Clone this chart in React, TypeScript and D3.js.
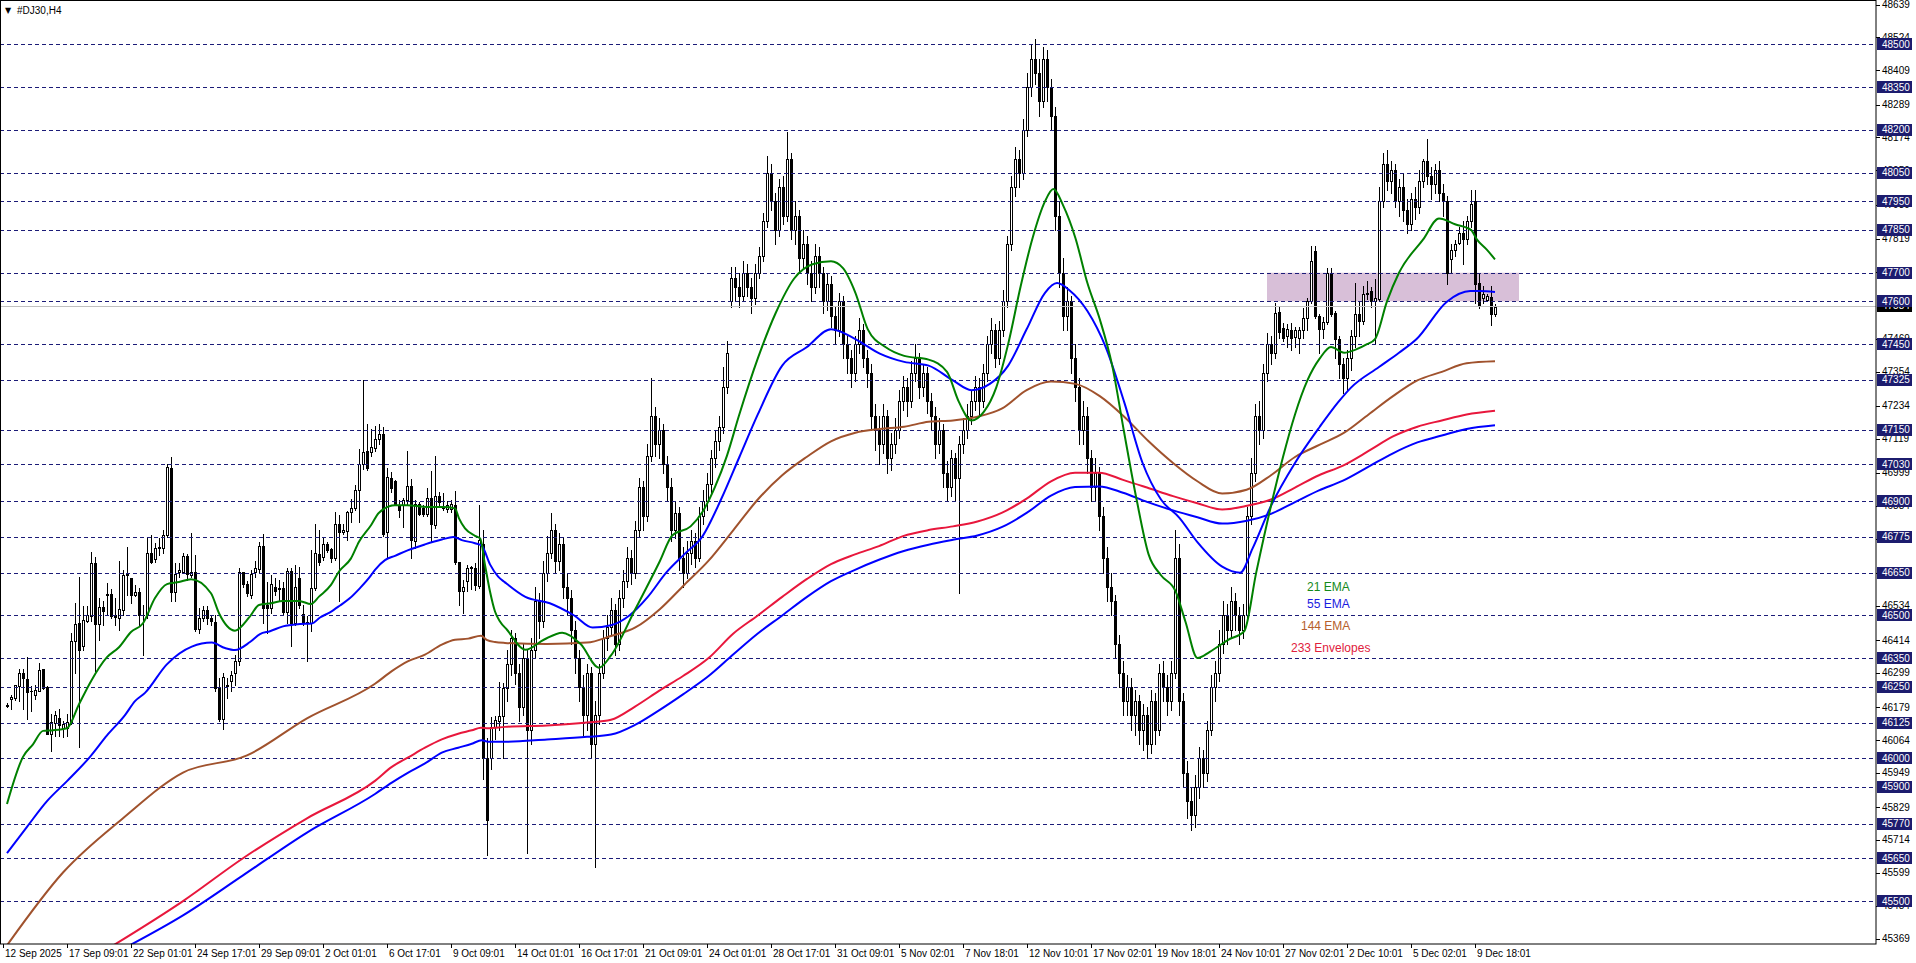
import React from 'react';
import * as d3 from 'd3';

type Candle = [number, number, number, number]; // open, high, low, close
type Pt = [number, number]; // bar index, price

const candles: Candle[] = [
  [46184,46195,46178,46188],[46206,46223,46171,46215],[46212,46258,46203,46255],[46253,46311,46200,46299],[46299,46311,46171,46282],
  [46278,46354,46136,46232],[46236,46253,46165,46235],[46223,46258,46206,46239],[46237,46334,46235,46308],[46311,46314,46241,46247],
  [46249,46253,46084,46084],[46084,46154,46026,46128],[46125,46165,46078,46151],[46142,46174,46078,46117],[46107,46131,46076,46119],
  [46107,46154,46078,46128],[46128,46439,46119,46410],[46412,46543,46299,46470],[46472,46636,46040,46380],[46392,46532,46380,46485],
  [46479,46532,46477,46500],[46497,46723,46479,46683],[46683,46706,46305,46470],[46470,46561,46415,46528],[46528,46549,46468,46517],
  [46570,46613,46503,46575],[46575,46593,46491,46497],[46500,46561,46468,46493],[46491,46691,46450,46522],[46520,46660,46503,46642],
  [46642,46741,46570,46645],[46630,46630,46543,46572],[46572,46607,46567,46584],[46582,46596,46468,46500],[46503,46537,46363,46500],
  [46503,46770,46491,46718],[46718,46782,46683,46689],[46698,46753,46689,46737],[46737,46770,46712,46739],[46737,46799,46718,46781],
  [46781,47032,46776,47020],[47016,47055,46549,46584],[46584,46683,46549,46644],[46654,46683,46636,46658],[46654,46718,46648,46710],
  [46710,46714,46625,46644],[46642,46790,46636,46654],[46651,46712,46444,46454],[46454,46526,46439,46491],[46491,46532,46479,46520],
  [46520,46532,46470,46491],[46491,46503,46468,46479],[46477,46503,46235,46247],[46247,46282,46130,46139],[46139,46299,46101,46284],
  [46258,46282,46212,46252],[46270,46305,46235,46293],[46297,46363,46258,46342],[46342,46665,46328,46651],[46651,46654,46601,46609],
  [46609,46621,46567,46578],[46572,46660,46561,46644],[46651,46691,46636,46665],[46662,46758,46654,46744],[46744,46787,46474,46526],
  [46535,46619,46439,46526],[46526,46642,46508,46609],[46599,46633,46572,46586],[46593,46625,46549,46595],[46595,46619,46502,46512],
  [46512,46668,46474,46657],[46657,46668,46392,46474],[46474,46677,46468,46601],[46633,46671,46526,46537],[46505,46537,46468,46474],
  [46474,46497,46340,46476],[46474,46729,46444,46596],[46596,46822,46590,46718],[46714,46799,46677,46686],[46706,46776,46694,46752],
  [46752,46756,46723,46729],[46733,46738,46689,46703],[46700,46861,46694,46819],[46819,46851,46549,46793],[46793,46822,46787,46799],
  [46796,46865,46764,46863],[46863,46909,46828,46877],[46875,46956,46869,46939],[46939,47084,46828,47032],[47032,47326,47014,47072],
  [47075,47171,47008,47016],[47072,47153,47058,47090],[47088,47163,47075,47119],[47119,47170,47100,47135],[47135,47160,46780,46787],
  [46791,47016,46700,46985],[46982,47002,46933,46947],[46970,46973,46886,46892],[46884,46904,46846,46869],[46886,46912,46811,46904],
  [46904,47075,46886,46954],[46954,46977,46700,46764],[46761,46904,46735,46892],[46892,46898,46851,46857],[46875,46886,46849,46854],
  [46854,46947,46849,46912],[46912,47005,46761,46819],[46816,47060,46805,46919],[46919,46933,46886,46898],[46878,46930,46869,46876],
  [46872,46900,46863,46886],[46872,46904,46863,46889],[46886,46935,46679,46686],[46686,46689,46537,46586],[46586,46625,46508,46601],
  [46621,46677,46586,46665],[46665,46672,46593,46670],[46665,46683,46590,46607],[46605,46886,46595,46764],[46752,46799,45927,46002],
  [46002,46072,45660,45784],[46002,46144,45962,46109],[46109,46148,46066,46133],[46130,46268,46098,46148],[46148,46264,46002,46247],
  [46247,46380,46200,46330],[46330,46450,46290,46420],[46420,46440,46260,46300],[46300,46330,46130,46180],[46180,46400,46150,46350],
  [46350,46380,45670,46100],[46100,46420,46050,46380],[46380,46600,46350,46550],[46550,46580,46420,46480],[46480,46690,46460,46650],
  [46650,46780,46620,46720],[46720,46860,46700,46800],[46800,46820,46650,46690],[46690,46790,46660,46750],[46750,46770,46560,46600],
  [46600,46650,46500,46560],[46560,46590,46400,46450],[46450,46480,46300,46350],[46350,46380,46200,46250],[46250,46290,46080,46150],
  [46150,46330,46100,46300],[46300,46320,46000,46050],[46050,46200,45618,46150],[46150,46330,46120,46300],[46300,46450,46280,46420],
  [46420,46500,46380,46460],[46460,46560,46430,46520],[46520,46540,46360,46400],[46400,46590,46380,46560],[46560,46660,46530,46620],
  [46620,46740,46600,46700],[46700,46730,46610,46650],[46650,46830,46630,46800],[46800,46980,46780,46950],[46950,46970,46800,46850],
  [46850,47100,46830,47060],[47060,47330,47040,47200],[47200,47230,47060,47100],[47100,47190,47050,47150],[47150,47170,47000,47030],
  [47030,47060,46900,46950],[46950,46980,46760,46800],[46800,46900,46770,46860],[46860,46880,46660,46700],[46700,46740,46600,46650],
  [46650,46760,46630,46720],[46720,46800,46680,46760],[46760,46790,46670,46700],[46700,46880,46690,46850],[46850,46940,46820,46900],
  [46900,47000,46870,46960],[46960,47080,46930,47050],[47050,47150,47020,47110],[47110,47200,47080,47160],[47160,47370,47140,47300],
  [47300,47460,47280,47420],[47600,47720,47580,47680],[47680,47720,47600,47650],[47650,47700,47580,47620],[47620,47740,47600,47700],
  [47700,47730,47620,47650],[47650,47680,47560,47610],[47610,47730,47590,47700],[47700,47790,47680,47760],[47760,47910,47740,47880],
  [47880,48110,47860,48050],[48050,48080,47920,47950],[47950,47980,47800,47850],[47850,48030,47830,48000],[48000,48040,47870,47900],
  [47900,48193,47880,48100],[48100,48120,47820,47850],[47850,47950,47800,47900],[47900,47920,47700,47750],[47750,47850,47720,47800],
  [47800,47830,47660,47700],[47700,47740,47600,47650],[47650,47800,47630,47760],[47760,47790,47650,47700],[47700,47720,47560,47600],
  [47600,47700,47570,47660],[47660,47690,47510,47550],[47550,47580,47450,47500],[47500,47630,47480,47600],[47600,47620,47400,47450],
  [47450,47480,47350,47400],[47400,47430,47300,47350],[47350,47480,47320,47450],[47450,47540,47420,47500],[47500,47520,47370,47400],
  [47400,47430,47300,47350],[47350,47380,47150,47200],[47200,47240,47080,47150],[47150,47200,47030,47100],[47100,47240,47070,47200],
  [47200,47220,47000,47050],[47050,47140,47010,47100],[47100,47190,47070,47150],[47150,47290,47120,47250],[47250,47340,47220,47300],
  [47300,47330,47200,47250],[47250,47390,47230,47350],[47350,47450,47320,47400],[47400,47420,47260,47300],[47300,47380,47270,47350],
  [47350,47370,47210,47250],[47250,47280,47150,47200],[47200,47230,47050,47100],[47100,47190,47070,47150],[47150,47170,46950,47000],
  [47000,47040,46900,46950],[46950,47080,46920,47050],[47050,47070,46900,46980],[46980,47130,46580,47100],[47100,47190,47070,47150],
  [47150,47240,47120,47200],[47200,47290,47170,47250],[47250,47340,47220,47300],[47300,47330,47200,47250],[47250,47380,47230,47350],
  [47350,47480,47320,47450],[47450,47540,47420,47500],[47500,47520,47370,47400],[47400,47530,47380,47500],[47500,47640,47480,47600],
  [47600,47830,47580,47800],[47800,48040,47780,48000],[48000,48140,47970,48100],[48100,48130,48000,48050],[48050,48240,48030,48200],
  [48200,48400,48180,48350],[48350,48500,48320,48450],[48450,48517,48360,48400],[48400,48450,48250,48300],[48300,48490,48280,48450],
  [48450,48480,48300,48350],[48350,48380,48200,48250],[48250,48280,47850,47900],[47900,47950,47650,47700],[47700,47750,47500,47550],
  [47550,47650,47500,47600],[47600,47620,47350,47400],[47400,47450,47250,47300],[47300,47330,47100,47150],[47150,47250,47100,47200],
  [47200,47230,47000,47050],[47050,47080,46900,46950],[46950,47050,46900,47000],[47000,47020,46800,46850],[46850,46880,46650,46700],
  [46700,46740,46550,46600],[46600,46650,46500,46550],[46550,46570,46350,46400],[46400,46430,46250,46300],[46300,46340,46150,46200],
  [46200,46290,46150,46250],[46250,46280,46100,46150],[46150,46240,46080,46200],[46200,46220,46050,46100],[46100,46190,46030,46150],
  [46150,46180,46000,46050],[46050,46240,46020,46200],[46200,46230,46050,46100],[46100,46330,46080,46300],[46300,46340,46200,46250],
  [46250,46290,46150,46200],[46200,46340,46170,46300],[46300,46800,46280,46700],[46700,46750,46150,46200],[46200,46230,45900,45950],
  [45950,45990,45790,45850],[45850,45900,45750,45800],[45800,45940,45760,45900],[45900,46040,45860,46000],[46000,46030,45900,45950],
  [45950,46130,45920,46100],[46100,46290,46080,46250],[46250,46340,46200,46300],[46300,46450,46270,46400],[46400,46550,46370,46500],
  [46500,46540,46400,46450],[46450,46600,46420,46550],[46550,46580,46450,46500],[46500,46530,46400,46450],[46450,46540,46420,46500],
  [46500,46880,46480,46850],[46850,47050,46820,47000],[47000,47240,46970,47200],[47200,47250,47100,47150],[47150,47380,47120,47350],
  [47350,47490,47320,47450],[47450,47480,47380,47420],[47420,47595,47400,47560],[47563,47580,47470,47493],[47508,47525,47460,47473],
  [47479,47520,47440,47504],[47500,47525,47430,47470],[47475,47510,47440,47500],[47470,47510,47420,47500],[47500,47575,47470,47540],
  [47540,47610,47500,47600],[47601,47793,47595,47741],[47776,47793,47540,47549],[47549,47555,47420,47502],[47502,47545,47470,47526],
  [47526,47718,47520,47700],[47698,47716,47550,47555],[47560,47565,47400,47467],[47467,47480,47330,47380],[47380,47400,47280,47330],
  [47330,47430,47290,47400],[47400,47500,47360,47480],[47480,47665,47440,47555],[47555,47600,47480,47530],[47530,47653,47520,47625],
  [47624,47671,47607,47630],[47636,47650,47580,47601],[47601,47677,47450,47613],[47607,48000,47600,47950],[47950,48120,47930,48080],
  [48080,48130,47990,48020],[48020,48090,47980,48060],[48060,48080,47930,47950],[47950,48030,47900,48000],[48000,48050,47880,47920],
  [47920,47960,47840,47870],[47870,47980,47850,47960],[47960,48000,47890,47930],[47930,48060,47910,48020],[48020,48100,48000,48090],
  [48090,48170,48010,48040],[48040,48070,47960,48010],[48010,48080,47980,48060],[48060,48090,47950,47980],[47980,48010,47900,47950],
  [47950,47970,47659,47700],[47747,47800,47700,47781],[47779,47815,47760,47802],[47805,47860,47800,47840],[47840,47880,47729,47820],
  [47820,47900,47800,47880],[47880,47990,47860,47940],[47950,47990,47595,47660],[47665,47700,47578,47584],[47610,47654,47595,47625],
  [47605,47625,47600,47619],[47616,47654,47516,47555],[47555,47590,47549,47581],
];

const ema21: Pt[] = [
  [0,45840],[4,46005],[6.5,46049],[9,46096],[11.5,46098],[15,46105],[18,46189],[21,46270],[25,46354],[28,46389],[31,46442],
  [34,46473],[37,46561],[40,46610],[43,46617],[46,46627],[51,46578],[53,46508],[57,46447],[60.75,46497],[63,46537],[66,46543],
  [69,46551],[73,46551],[76,46540],[78,46566],[81,46607],[83,46654],[86,46700],[88,46758],[91,46816],[93,46860],[97,46886],
  [100,46886],[105,46880],[109,46880],[112,46875],[113,46840],[114.5,46805],[117,46779],[118.3,46770],[119.5,46677],[120.75,46584],
  [122,46514],[123.25,46479],[125,46450],[129.6,46380],[134.2,46415],[138.8,46440],[143.4,46400],[148,46317],[151,46360],
  [157,46520],[163.2,46690],[166.3,46780],[170.9,46812],[173.9,46863],[177,46950],[180,47060],[183,47200],[187.7,47400],
  [192.2,47560],[196.8,47680],[201.4,47730],[206,47740],[209,47716],[212.1,47630],[215.2,47502],[219.7,47439],[224.3,47409],
  [230.4,47396],[235,47353],[238,47247],[241.1,47183],[244.2,47213],[247.3,47298],[250.3,47451],[253.4,47652],[256.4,47822],
  [259.5,47950],[261.6,47993],[264,47937],[267.1,47822],[270.1,47664],[273.2,47537],[276.3,47375],[279.3,47140],[282.4,46906],
  [285.4,46714],[288.5,46641],[292.1,46586],[294.6,46479],[297.6,46351],[300.7,46373],[305.3,46415],[309.3,46445],[312.3,46650],
  [316,46884],[319,47055],[322,47204],[325.1,47323],[328.2,47400],[331,47440],[334.3,47420],[337,47430],[340,47450],[342,47468],
  [345,47600],[348,47700],[354,47816],[358,47890],[362,47870],[366,47850],[367.5,47816],[370,47780],[372,47747],
];

const ema55: Pt[] = [
  [0,45668],[5,45760],[10,45850],[15,45920],[20.75,46005],[25,46080],[29.5,46151],[32,46200],[34.5,46229],[39.9,46328],
  [46.2,46391],[51.2,46405],[54.5,46386],[57,46379],[60.75,46407],[63.25,46435],[65.75,46445],[69,46462],[73.25,46470],
  [76.2,46472],[78.25,46493],[80.75,46511],[83.25,46535],[85.75,46561],[88.25,46596],[90.75,46636],[92,46660],[94.5,46694],
  [97,46709],[100.3,46729],[104.5,46749],[108.7,46766],[111.6,46775],[113.7,46764],[117,46753],[118.7,46744],[120.75,46679],
  [122.8,46636],[124.5,46616],[129.6,46565],[135.7,46543],[141.8,46500],[146.4,46458],[151,46466],[155.6,46500],[160.2,46565],
  [164.8,46650],[169.3,46714],[173.9,46778],[178.5,46906],[183.1,47055],[187.7,47204],[193.8,47375],[199.9,47439],[206,47502],
  [212.1,47468],[218.2,47417],[224.3,47388],[230.4,47375],[236.5,47323],[241.1,47289],[245.7,47311],[250.3,47375],[254.9,47502],
  [259.5,47630],[262.5,47664],[265.6,47639],[270.1,47566],[274.7,47439],[279.3,47247],[283.9,47034],[288.5,46906],[293.1,46842],
  [297.6,46757],[303.8,46671],[308.3,46650],[311.4,46735],[316,46884],[322,47034],[328.2,47161],[332.8,47247],[336,47298],
  [343,47370],[348,47420],[352.4,47468],[359.9,47598],[365.8,47636],[368.3,47636],[372,47633],
];

const ema144: Pt[] = [
  [0,45345],[14,45600],[29,45790],[44,45950],[60,46010],[75,46140],[92,46261],[96.2,46305],[100.3,46340],[104.5,46363],
  [108.7,46398],[112,46415],[115.3,46419],[118.5,46429],[119.9,46415],[122,46407],[124.5,46404],[135,46400],[145,46405],
  [151,46428],[157.1,46458],[163.2,46522],[169.3,46607],[175.4,46692],[181.6,46799],[187.7,46906],[193.8,46991],[199.9,47055],
  [206,47110],[212.1,47140],[218.2,47153],[224.3,47161],[230.4,47178],[236.5,47183],[242.6,47196],[248.8,47225],[254.9,47289],
  [261,47319],[267.1,47311],[273.2,47268],[279.3,47196],[285.4,47110],[291.5,47034],[297.6,46970],[303.8,46927],[309.9,46940],
  [316,46991],[322,47055],[328.2,47098],[334.3,47140],[340.4,47204],[346.5,47268],[352.6,47323],[358.7,47353],[364.9,47383],
  [372,47390],
];

const envUpper: Pt[] = [
  [26,45340],[44,45500],[59,45650],[75,45790],[92,45921],[96.2,45970],[100.3,46003],[104.5,46037],[108.7,46066],[112.8,46086],
  [116.2,46098],[118.5,46107],[120.3,46105],[124.5,46110],[135,46115],[145,46125],[151,46135],[157,46181],[163,46236],
  [169,46288],[175.4,46351],[181.6,46437],[187.7,46500],[193.8,46565],[200,46628],[206,46680],[212,46714],[218,46743],
  [224,46778],[230.4,46799],[236.5,46812],[242.6,46829],[248.8,46860],[255,46910],[261,46970],[267,47000],[273,47000],
  [279,46975],[285,46948],[291.5,46918],[297.6,46893],[303.8,46871],[310,46884],[316,46906],[322,46948],[328,46991],
  [334,47025],[340.4,47076],[346.5,47127],[352.6,47161],[358.7,47183],[364.9,47204],[372,47217],
];

const envLower: Pt[] = [
  [30,45340],[44,45450],[59,45590],[75,45740],[92,45875],[96.2,45915],[100.3,45950],[104.5,45982],[108.7,46020],[112.8,46037],
  [116.2,46051],[118.7,46063],[120.3,46058],[124.5,46058],[135,46066],[145,46075],[151,46083],[157,46117],[163,46168],
  [169,46224],[175.4,46288],[181.6,46364],[187.7,46437],[193.8,46500],[200,46565],[206,46620],[212,46660],[218,46695],
  [224,46725],[230.4,46748],[236.5,46765],[242.6,46780],[248.8,46810],[255,46860],[261,46920],[267,46950],[273,46952],
  [279,46930],[285,46898],[291.5,46868],[297.6,46844],[303.8,46822],[310,46832],[316,46856],[322,46897],[328,46938],
  [334,46972],[340.4,47021],[346.5,47068],[352.6,47106],[358.7,47130],[364.9,47153],[372,47166],
];

const levels: number[] = [
  48500, 48350, 48200, 48050, 47950, 47850, 47700, 47600, 47450, 47325, 47150, 47030,
  46900, 46775, 46650, 46500, 46350, 46250, 46125, 46000, 45900, 45770, 45650, 45500,
];

const priceTicks: number[] = [
  48639, 48524, 48409, 48289, 48174, 48059, 47939, 47819, 47704, 47469, 47354, 47234, 47119, 46999,
  46884, 46769, 46649, 46534, 46414, 46299, 46179, 46064, 45949, 45829, 45714, 45599, 45484, 45369,
];

const timeLabels: string[] = [
  '12 Sep 2025', '17 Sep 09:01', '22 Sep 01:01', '24 Sep 17:01', '29 Sep 09:01', '2 Oct 01:01',
  '6 Oct 17:01', '9 Oct 09:01', '14 Oct 01:01', '16 Oct 17:01', '21 Oct 09:01', '24 Oct 01:01',
  '28 Oct 17:01', '31 Oct 09:01', '5 Nov 02:01', '7 Nov 18:01', '12 Nov 10:01', '17 Nov 02:01',
  '19 Nov 18:01', '24 Nov 10:01', '27 Nov 02:01', '2 Dec 10:01', '5 Dec 02:01', '9 Dec 18:01',
];

const currentPrice = 47584;
const zoneBars: [number, number] = [315, 378];
const zonePrices: [number, number] = [47600, 47700];

const legendItems: { label: string; color: string }[] = [
  { label: '21 EMA', color: '#15891a' },
  { label: '55 EMA', color: '#1a1adf' },
  { label: '144 EMA', color: '#b5602c' },
  { label: '233 Envelopes', color: '#e0203c' },
];

export default function App() {
  const W = 1916;
  const H = 963;
  const plotRight = 1876;
  const plotBottom = 944;
  const font = "'Liberation Sans', Arial, sans-serif";

  const x = d3.scaleLinear().domain([0, 372]).range([7, 7 + 4 * 372]);
  const y = d3.scaleLinear().domain([45369, 48639]).range([938.5, 4.6]);

  const line = d3
    .line<Pt>()
    .x((d) => x(d[0]))
    .y((d) => y(d[1]))
    .curve(d3.curveMonotoneX);

  const lines: { pts: Pt[]; color: string }[] = [
    { pts: envLower, color: '#0000ff' },
    { pts: envUpper, color: '#e8173c' },
    { pts: ema144, color: '#a0522d' },
    { pts: ema55, color: '#0000ff' },
    { pts: ema21, color: '#008000' },
  ];

  const legendY = [587, 604, 626, 648];
  const legendX = [1307, 1307, 1301, 1291];

  return (
    <div style={{ position: 'absolute', left: 0, top: 0, width: W, height: H, background: '#fff' }}>
      <svg width={W} height={H} style={{ display: 'block' }} fontFamily={font}>
        <defs>
          <clipPath id="plot">
            <rect x={0} y={0} width={plotRight} height={plotBottom} />
          </clipPath>
        </defs>
        <rect x={0} y={0} width={W} height={H} fill="#fff" />

        <rect
          x={x(zoneBars[0])}
          y={y(zonePrices[1])}
          width={x(zoneBars[1]) - x(zoneBars[0])}
          height={y(zonePrices[0]) - y(zonePrices[1])}
          fill="#d8bfd8"
        />

        <g clipPath="url(#plot)">
          {candles.map((c, i) => {
            const [o, h, l, cl] = c;
            const cx = Math.round(x(i));
            const top = Math.round(y(Math.max(o, cl)));
            const bot = Math.round(y(Math.min(o, cl)));
            const bull = cl >= o;
            return (
              <g key={i}>
                <line x1={cx + 0.5} x2={cx + 0.5} y1={Math.round(y(h))} y2={Math.round(y(l)) + 1} stroke="#000" strokeWidth={1} />
                {bull ? (
                  <rect x={cx - 0.5} y={top + 0.5} width={2} height={Math.max(bot - top, 1)} fill="#fff" stroke="#000" strokeWidth={1} />
                ) : (
                  <rect x={cx - 1} y={top} width={3} height={Math.max(bot - top + 1, 1)} fill="#000" />
                )}
              </g>
            );
          })}
        </g>

        {levels.map((v) => (
          <line
            key={v}
            x1={0}
            x2={plotRight}
            y1={Math.round(y(v)) + 0.5}
            y2={Math.round(y(v)) + 0.5}
            stroke="#1c1c78"
            strokeWidth={1}
            strokeDasharray="4,3"
          />
        ))}

        <line x1={0} x2={plotRight} y1={Math.round(y(currentPrice)) + 0.5} y2={Math.round(y(currentPrice)) + 0.5} stroke="#c0c0c0" strokeWidth={1} />

        <g clipPath="url(#plot)">
          {lines.map((ln, k) => (
            <path key={k} d={line(ln.pts) || ''} fill="none" stroke={ln.color} strokeWidth={2} />
          ))}
        </g>

        {legendItems.map((it, k) => (
          <text key={it.label} x={legendX[k]} y={legendY[k]} dominantBaseline="central" fontSize={12} fill={it.color}>
            {it.label}
          </text>
        ))}

        <rect x={0.5} y={0.5} width={plotRight - 0.5} height={plotBottom - 0.5} fill="none" stroke="#000" strokeWidth={1} />

        <text x={5} y={10} dominantBaseline="central" fontSize={8} fontFamily="'DejaVu Sans', sans-serif">▼</text>
        <text x={17} y={10} dominantBaseline="central" fontSize={10}>#DJ30,H4</text>

        {priceTicks.map((v) => (
          <g key={v}>
            <line x1={plotRight} x2={plotRight + 4} y1={Math.round(y(v)) + 0.5} y2={Math.round(y(v)) + 0.5} stroke="#000" />
            <text x={plotRight + 6} y={y(v)} dominantBaseline="central" fontSize={10} fill="#000">
              {v}
            </text>
          </g>
        ))}
        <rect x={plotRight + 1} y={Math.round(y(currentPrice)) - 6} width={35} height={12} fill="#000" />
        <text x={plotRight + 6} y={y(currentPrice)} dominantBaseline="central" fontSize={10} fill="#fff">
          {currentPrice}
        </text>
        {levels.map((v) => (
          <g key={'lb' + v}>
            <rect x={plotRight + 1} y={Math.round(y(v)) - 6} width={35} height={12} fill="#1c1c6e" />
            <text x={plotRight + 6} y={y(v)} dominantBaseline="central" fontSize={10} fill="#fff">
              {v}
            </text>
          </g>
        ))}

        {timeLabels.map((t, k) => {
          const tx = Math.round(x(16 * k - 1));
          return (
            <g key={t}>
              <line x1={tx + 0.5} x2={tx + 0.5} y1={plotBottom} y2={plotBottom + 4} stroke="#000" />
              <text x={tx + 2} y={plotBottom + 9} dominantBaseline="central" fontSize={10} fill="#000">
                {t}
              </text>
            </g>
          );
        })}
      </svg>
    </div>
  );
}
